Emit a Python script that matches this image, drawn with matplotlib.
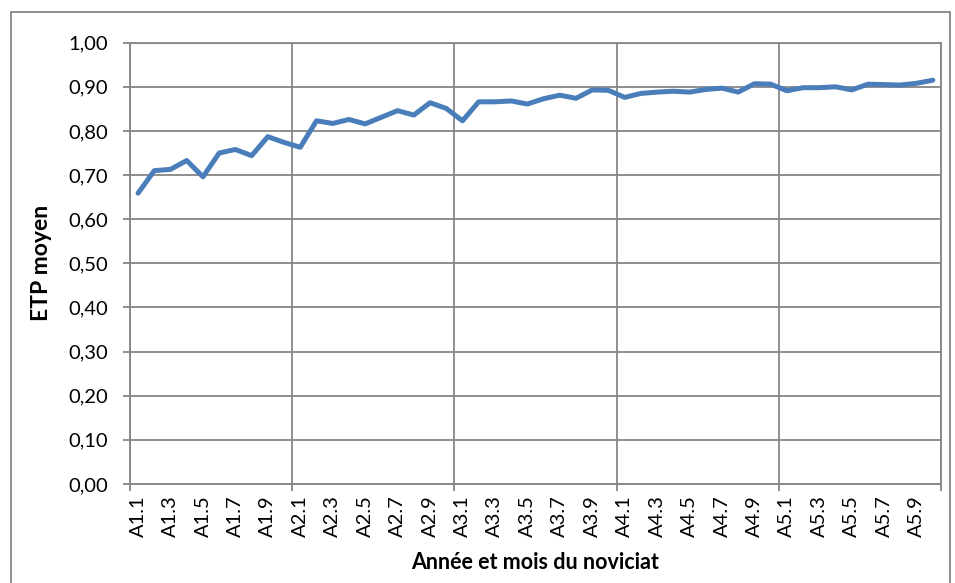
import numpy as np
import matplotlib
matplotlib.use("Agg")
import matplotlib.pyplot as plt
from matplotlib.patches import Rectangle

# categories: 5 years x 10 months
years = [1, 2, 3, 4, 5]
months = list(range(1, 11))
categories = ["A%d.%d" % (y, m) for y in years for m in months]

etp = [0.659, 0.710, 0.713, 0.733, 0.696, 0.750, 0.758, 0.744, 0.787, 0.774,
       0.763, 0.823, 0.817, 0.826, 0.816, 0.831, 0.846, 0.836, 0.864, 0.851,
       0.823, 0.866, 0.866, 0.868, 0.861, 0.873, 0.881, 0.874, 0.893, 0.892,
       0.876, 0.885, 0.888, 0.890, 0.888, 0.894, 0.897, 0.888, 0.907, 0.906,
       0.891, 0.898, 0.898, 0.900, 0.893, 0.906, 0.905, 0.904, 0.908, 0.915]

yticks = [0.0, 0.1, 0.2, 0.3, 0.4, 0.5, 0.6, 0.7, 0.8, 0.9, 1.0]
ytick_labels = ["0,00", "0,10", "0,20", "0,30", "0,40", "0,50",
                "0,60", "0,70", "0,80", "0,90", "1,00"]

plt.rcParams['font.family'] = ['Lato', 'DejaVu Sans']
grid_col = '#868686'

fig = plt.figure(figsize=(9.55, 5.83), dpi=100)
ax = fig.add_axes([0.1361, 0.1698, 0.8492, 0.757])

x = np.arange(len(categories))
ax.plot(x, etp, color='#4a7ebb', lw=3.6, solid_joinstyle='round',
        solid_capstyle='round', zorder=3)

ax.set_xlim(-0.5, len(categories) - 0.5)
ax.set_ylim(0, 1.0)

# major ticks at year boundaries (gridlines), labels at every 2nd category
ax.set_xticks(np.arange(-0.5, len(categories), 10))
ax.set_xticklabels([])
ax.set_xticks(x[::2], minor=True)
ax.set_xticklabels(categories[::2], minor=True, rotation=90, fontsize=14.5)
ax.tick_params(axis='x', which='minor', length=0, pad=8)
ax.tick_params(axis='x', which='major', length=5, width=1.3, color=grid_col)

ax.set_yticks(yticks)
ax.set_yticklabels(ytick_labels, fontsize=14.5)
ax.tick_params(axis='y', length=5, width=1.3, color=grid_col, pad=11)

ax.grid(True, which='major', color=grid_col, lw=1.3)
ax.set_axisbelow(True)
for s in ax.spines.values():
    s.set_color(grid_col)
    s.set_linewidth(1.3)

ax.set_ylabel("ETP moyen", fontsize=16.5, fontweight='bold', va='center')
ax.yaxis.set_label_coords(-0.1097, 0.5)
ax.set_xlabel("Année et mois du noviciat", fontsize=15.5, fontweight='bold',
              va='center')
ax.xaxis.set_label_coords(0.5, -0.1768)

# outer chart border
fig.patches.append(Rectangle((11 / 955, -0.05), 939 / 955, 1.05 - 12 / 583,
                             transform=fig.transFigure, fill=False,
                             edgecolor=grid_col, lw=1.3))

fig.savefig("out.png", dpi=100)
